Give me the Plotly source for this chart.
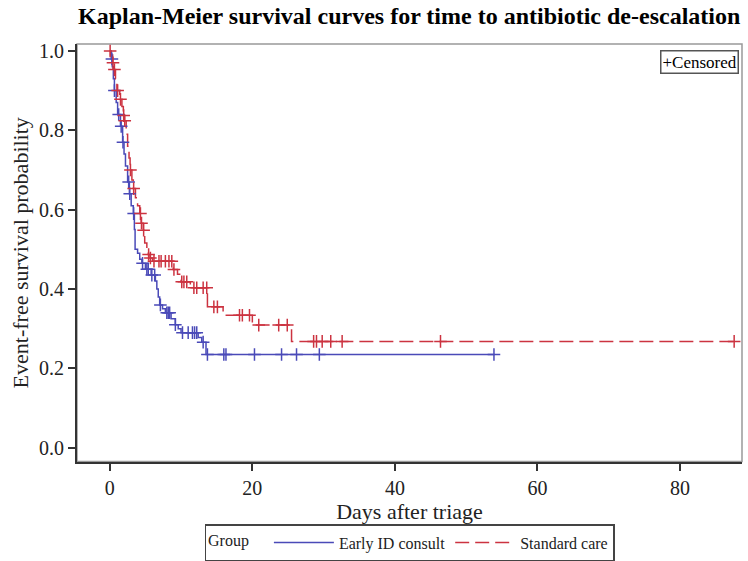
import plotly.graph_objects as go

# Early ID consult: step times and survival after each step
early_t = [0, 0.2, 0.35, 0.5, 0.65, 0.9, 1.1, 1.5, 1.8, 2.0, 2.2, 2.5, 2.75, 3.0, 3.3, 3.45, 3.55,
           3.9, 4.2, 4.5, 5.0, 5.8, 6.4, 6.6, 6.8, 7.0, 7.4, 7.8, 8.6, 9.2, 9.6, 10.0, 12.4, 12.9, 13.5, 54.0]
early_s = [1.0, 0.98, 0.96, 0.93, 0.90, 0.87, 0.84, 0.81, 0.77, 0.74, 0.71, 0.67, 0.64, 0.61, 0.59, 0.55, 0.50,
           0.49, 0.475, 0.465, 0.45, 0.435, 0.42, 0.40, 0.38, 0.36, 0.35, 0.34, 0.325, 0.31, 0.30, 0.29, 0.278, 0.266, 0.235, 0.235]
early_cens_t = [0.3, 0.65, 1.25, 1.6, 1.85, 2.65, 2.8, 3.35, 4.6, 5.2, 5.4, 5.9, 6.3, 7.1, 8.0, 8.2, 8.4, 9.2,
                10.2, 11.0, 11.6, 11.9, 12.2, 13.1, 13.7, 16.0, 16.3, 20.3, 24.1, 26.2, 29.4, 53.9]

# Standard care
std_t = [0, 0.1, 0.4, 0.6, 0.8, 1.0, 1.4, 1.7, 1.9, 2.05, 2.3, 2.5, 2.7, 2.85, 3.1, 3.3, 3.6, 3.9, 4.2,
         4.4, 4.7, 4.9, 5.2, 5.4, 5.65, 6.0, 8.9, 9.5, 10.0, 11.3, 13.7, 15.9, 20.0, 25.5, 88.0]
std_s = [1.0, 0.99, 0.97, 0.953, 0.93, 0.90, 0.878, 0.86, 0.837, 0.824, 0.79, 0.76, 0.73, 0.70, 0.675, 0.653,
         0.63, 0.61, 0.59, 0.566, 0.548, 0.516, 0.50, 0.487, 0.478, 0.47, 0.449, 0.437, 0.418, 0.403, 0.355,
         0.334, 0.309, 0.268, 0.268]
std_cens_t = [0.05, 0.45, 0.65, 1.1, 1.5, 1.95, 2.1, 2.9, 3.35, 4.3, 4.45, 4.75, 5.45, 5.7, 6.2, 6.9, 7.2, 7.8,
              8.3, 8.7, 9.0, 10.1, 10.4, 10.8, 11.8, 12.2, 13.1, 13.6, 14.6, 15.1, 18.2, 18.6, 19.6, 20.9,
              23.7, 24.9, 28.6, 29.0, 29.8, 31.0, 32.6, 46.4, 87.6]

x_ticks = [0, 20, 40, 60, 80]
y_ticks = [0.0, 0.2, 0.4, 0.6, 0.8, 1.0]

BLUE = "#4a4ab8"
RED = "#cc3340"
FONT = "Liberation Serif"


def surv_at(ts, ss, t):
    val = ss[0]
    for ti, si in zip(ts, ss):
        if ti <= t:
            val = si
        else:
            break
    return val


fig = go.Figure()
fig.add_trace(go.Scatter(x=early_t, y=early_s, mode="lines", line=dict(shape="hv", color=BLUE, width=1.5),
                         name="Early ID consult"))
fig.add_trace(go.Scatter(x=std_t, y=std_s, mode="lines",
                         line=dict(shape="hv", color=RED, width=1.5, dash="14px,6px"),
                         name="Standard care"))
fig.add_trace(go.Scatter(x=early_cens_t, y=[surv_at(early_t, early_s, t) for t in early_cens_t], mode="markers",
                         marker=dict(symbol="cross-thin", size=9, line=dict(color=BLUE, width=1.5)),
                         showlegend=False, hoverinfo="skip"))
fig.add_trace(go.Scatter(x=std_cens_t, y=[surv_at(std_t, std_s, t) for t in std_cens_t], mode="markers",
                         marker=dict(symbol="cross-thin", size=9, line=dict(color=RED, width=1.5)),
                         showlegend=False, hoverinfo="skip"))

fig.update_layout(
    width=748, height=561,
    margin=dict(l=77, r=6, t=44, b=95),
    paper_bgcolor="white", plot_bgcolor="white",
    font=dict(family=FONT, size=17, color="#222"),
    title=dict(text="<b>Kaplan-Meier survival curves for time to antibiotic de-escalation</b>",
               x=0.547, xanchor="center", y=0.972, yanchor="middle", font=dict(size=24, color="black")),
    legend=dict(orientation="h", x=0.5, xanchor="center", y=-0.012, yref="container", yanchor="bottom",
                title=dict(text="Group   ", font=dict(size=16)), font=dict(size=16),
                bordercolor="#444", borderwidth=1.5, bgcolor="white", itemwidth=60, tracegroupgap=0),
    shapes=[dict(type="rect", xref="paper", yref="paper", x0=0, x1=1, y0=0, y1=1,
                 line=dict(color="#999", width=1.5), layer="below")],
    annotations=[dict(text="+Censored", xref="paper", yref="paper", x=0.995, y=0.985, xanchor="right",
                      yanchor="top", showarrow=False, font=dict(size=17, color="black"),
                      bordercolor="#555", borderwidth=1.5, borderpad=1, bgcolor="white")],
)
fig.update_xaxes(range=[-4.6, 88.7], tickvals=x_ticks, ticks="outside", ticklen=7, tickwidth=1.5,
                 tickcolor="#333", showline=True, linecolor="#333", linewidth=2, showgrid=False,
                 zeroline=False, title=dict(text="Days after triage", font=dict(size=22), standoff=4),
                 tickfont=dict(size=20))
fig.update_yaxes(range=[-0.035, 1.0175], tickvals=y_ticks, tickformat=".1f", ticks="outside", ticklen=7,
                 tickwidth=1.5, tickcolor="#333", showline=True, linecolor="#333", linewidth=2,
                 showgrid=False, zeroline=False,
                 title=dict(text="Event-free survival probability", font=dict(size=22), standoff=4),
                 tickfont=dict(size=20))

fig.write_html("out.html", config={"displayModeBar": False},
               post_script="document.body.style.margin='0';")
